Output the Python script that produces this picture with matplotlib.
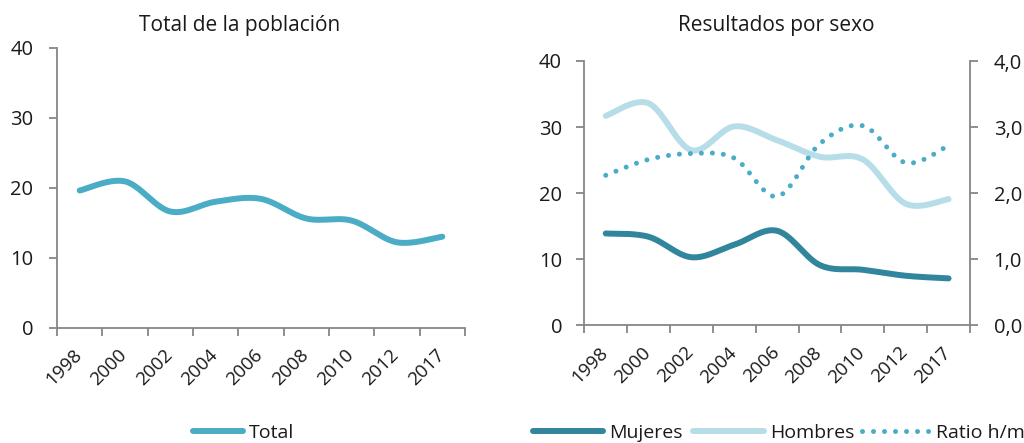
import numpy as np
import matplotlib
matplotlib.use("Agg")
import matplotlib.pyplot as plt
from matplotlib.lines import Line2D
from matplotlib.ticker import FuncFormatter
import matplotlib.transforms as mtransforms

plt.rcParams['font.family'] = ['Open Sans', 'DejaVu Sans']

years = ['1998', '2000', '2002', '2004', '2006', '2008', '2010', '2012', '2017']
total = [19.6, 20.9, 16.6, 18.0, 18.4, 15.6, 15.3, 12.2, 13.0]
mujeres = [13.9, 13.4, 10.3, 12.2, 14.3, 9.1, 8.4, 7.5, 7.1]
hombres = [31.7, 33.6, 26.5, 30.1, 28.0, 25.5, 25.1, 18.4, 19.1]
ratio = [2.27, 2.51, 2.60, 2.53, 1.95, 2.75, 3.02, 2.46, 2.72]

C_TOTAL = '#4BACC6'
C_MUJ = '#31859C'
C_HOM = '#B7DDE8'
C_RATIO = '#4BACC6'
C_AXIS = '#868686'
C_TEXT = '#1a1a1a'

FS_TICK = 14.5
FS_XT = 13.5
FS_TITLE = 15.0
FS_LEG = 14.0
LW = 4.3


def smooth(y, n=30):
    """Excel-like smoothed line (Catmull-Rom Bezier) through category points."""
    y = np.asarray(y, float)
    x = np.arange(len(y), dtype=float)
    P = np.column_stack([x, y])
    out = [P[0]]
    for i in range(len(P) - 1):
        p0 = P[i - 1] if i > 0 else P[i]
        p1 = P[i]
        p2 = P[i + 1]
        p3 = P[i + 2] if i + 2 < len(P) else P[i + 1]
        c1 = p1 + (p2 - p0) / 6.0
        c2 = p2 - (p3 - p1) / 6.0
        t = np.linspace(0, 1, n)[1:, None]
        b = ((1 - t) ** 3) * p1 + 3 * ((1 - t) ** 2) * t * c1 + 3 * (1 - t) * t ** 2 * c2 + t ** 3 * p2
        out.extend(b)
    out = np.array(out)
    return out[:, 0], out[:, 1]


def style_axes(ax, ypad):
    n = len(years)
    ax.set_xlim(-0.5, n - 0.5)
    ax.set_ylim(0, 40)
    ax.set_yticks([0, 10, 20, 30, 40])
    ax.set_xticks(np.arange(-0.5, n, 1.0))
    ax.set_xticklabels([])
    ax.set_xticks(np.arange(n), minor=True)
    ax.set_xticklabels(years, minor=True, rotation=45, ha='right',
                       fontsize=FS_XT, color=C_TEXT)
    ax.tick_params(axis='x', which='major', length=6, width=1.3, color=C_AXIS, direction='out')
    ax.tick_params(axis='x', which='minor', length=0, pad=13)
    ax.tick_params(axis='y', length=6, width=1.3, color=C_AXIS, direction='out',
                   labelsize=FS_TICK, labelcolor=C_TEXT, pad=ypad)
    for s in ['top', 'right']:
        ax.spines[s].set_visible(False)
    for s in ['left', 'bottom']:
        ax.spines[s].set_color(C_AXIS)
        ax.spines[s].set_linewidth(1.3)
    offset = mtransforms.ScaledTranslation(4 / 72, 0, ax.figure.dpi_scale_trans)
    for lab in ax.get_xticklabels(minor=True):
        lab.set_transform(lab.get_transform() + offset)


fig = plt.figure(figsize=(10.24, 4.43), dpi=100)

# Left panel
ax1 = fig.add_axes([57 / 1024, 1 - 327.7 / 443, 408 / 1024, 280 / 443])
style_axes(ax1, ypad=11)
sx, sy = smooth(total)
ax1.plot(sx, sy, color=C_TOTAL, lw=LW, solid_capstyle='round')
fig.text(240 / 1024, 1 - 25 / 443, 'Total de la población', ha='center', va='center',
         fontsize=FS_TITLE, color=C_TEXT)

# Right panel
ax2 = fig.add_axes([584.3 / 1024, 1 - 325.3 / 443, 385.7 / 1024, 264.3 / 443])
style_axes(ax2, ypad=10)
ax3 = ax2.twinx()
ax3.set_ylim(0, 4)
ax3.set_yticks([0, 1, 2, 3, 4])
ax3.yaxis.set_major_formatter(FuncFormatter(lambda v, p: f'{v:.1f}'.replace('.', ',')))
ax3.tick_params(axis='y', length=6, width=1.3, color=C_AXIS, direction='out',
                labelsize=FS_TICK, labelcolor=C_TEXT, pad=11)
for s in ['top', 'left', 'bottom']:
    ax3.spines[s].set_visible(False)
ax3.spines['right'].set_color(C_AXIS)
ax3.spines['right'].set_linewidth(1.3)

mx, my = smooth(mujeres)
hx, hy = smooth(hombres)
rx, ry = smooth(ratio)
ax2.plot(hx, hy, color=C_HOM, lw=LW, solid_capstyle='round', zorder=2)
ax2.plot(mx, my, color=C_MUJ, lw=LW, solid_capstyle='round', zorder=3)
ax3.plot(rx, ry, color=C_RATIO, lw=3.6, linestyle=(0, (0.001, 2.2)),
         dash_capstyle='round')
fig.text(776 / 1024, 1 - 25 / 443, 'Resultados por sexo', ha='center', va='center',
         fontsize=FS_TITLE, color=C_TEXT)

# Legends
LEG_Y = 1 - 433 / 443


def add_leg(handle, label, x_px, hlen_px):
    em = FS_LEG * 100 / 72
    fig.legend([handle], [label], loc='center left', bbox_to_anchor=(x_px / 1024, LEG_Y),
               frameon=False, fontsize=FS_LEG, handlelength=hlen_px / em,
               handletextpad=6 / em, borderpad=0, borderaxespad=0,
               labelcolor=C_TEXT)


add_leg(Line2D([], [], color=C_TOTAL, lw=LW, solid_capstyle='round'), 'Total', 193, 50)
add_leg(Line2D([], [], color=C_MUJ, lw=LW, solid_capstyle='round'), 'Mujeres', 533, 70)
add_leg(Line2D([], [], color=C_HOM, lw=LW, solid_capstyle='round'), 'Hombres', 693, 71)
add_leg(Line2D([], [], color=C_RATIO, lw=3.6, linestyle=(0, (0.001, 2.2)),
               dash_capstyle='round'), 'Ratio h/m', 862, 68)

fig.savefig('out.png', dpi=100)
